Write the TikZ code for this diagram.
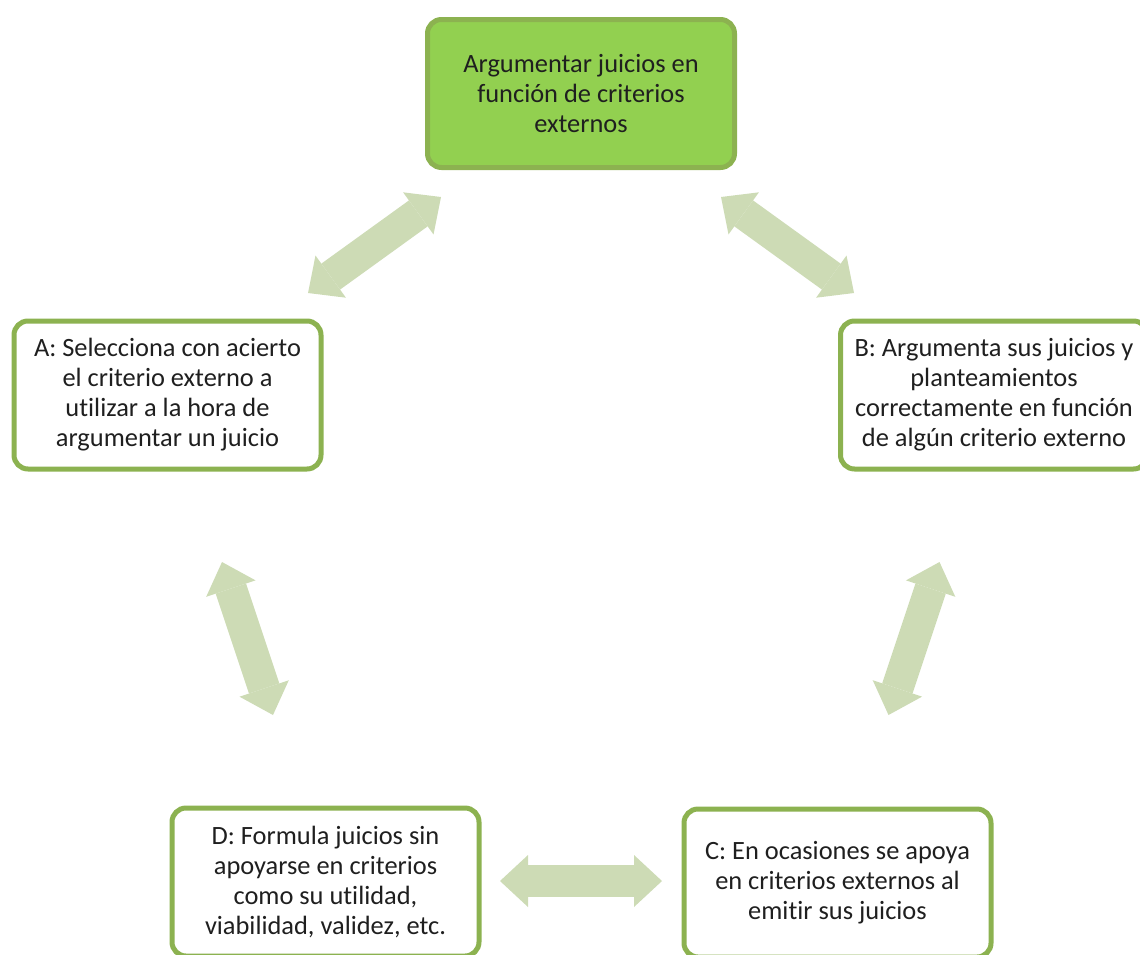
\documentclass[tikz,border=0pt]{standalone}
\usepackage{fontspec}
\setmainfont{Carlito}[Ligatures=NoCommon]
\usetikzlibrary{arrows.meta}
\definecolor{verdeborde}{RGB}{140,178,80}
\definecolor{verdefondo}{RGB}{146,208,80}
\definecolor{verdeflecha}{RGB}{205,219,181}
\tikzset{
  caja/.style={draw=verdeborde, line width=2.5pt, rounded corners=7pt, fill=white,
    minimum width=153.5pt, minimum height=74pt, align=center,
    font=\fontsize{13.2}{15}\selectfont, text=black!88},
  flecha/.style={draw=verdeflecha, line width=16pt, {Triangle[length=14pt,width=26pt,line width=0pt]}-{Triangle[length=14pt,width=26pt,line width=0pt]}}
}
\begin{document}
\begin{tikzpicture}[x=0.5pt,y=-0.5pt]
        \useasboundingbox (0,0) rectangle (1140,954);

        % Cajas
        \path(581,93.5) node[caja,fill=verdefondo](central){Argumentar juicios en\\función de criterios\\externos};
        \path(167.5,395) node[caja](critA){A: Selecciona con acierto\\el criterio externo a\\utilizar a la hora de\\argumentar un juicio};
        \path(994,395) node[caja](critB){B: Argumenta sus juicios y\\planteamientos\\correctamente en función\\de algún criterio externo};
        \path(837.5,883) node[caja](critC){C: En ocasiones se apoya\\en criterios externos al\\emitir sus juicios};
        \path(325.5,882) node[caja](critD){D: Formula juicios sin\\apoyarse en criterios\\como su utilidad,\\viabilidad, validez, etc.};

        % Extremos de las flechas
        \coordinate (fa1) at (308,293);
        \coordinate (fa2) at (441,197);
        \coordinate (fb1) at (721,197);
        \coordinate (fb2) at (854,293);
        \coordinate (fc1) at (939.5,562);
        \coordinate (fc2) at (888.5,715);
        \coordinate (fd1) at (222,562);
        \coordinate (fd2) at (273,715);
        \coordinate (fe1) at (500,881);
        \coordinate (fe2) at (662,881);

        % Flechas
        \draw[flecha](fa1) -- (fa2);
        \draw[flecha](fb1) -- (fb2);
        \draw[flecha](fc1) -- (fc2);
        \draw[flecha](fd1) -- (fd2);
        \draw[flecha](fe1) -- (fe2);
\end{tikzpicture}
\end{document}
